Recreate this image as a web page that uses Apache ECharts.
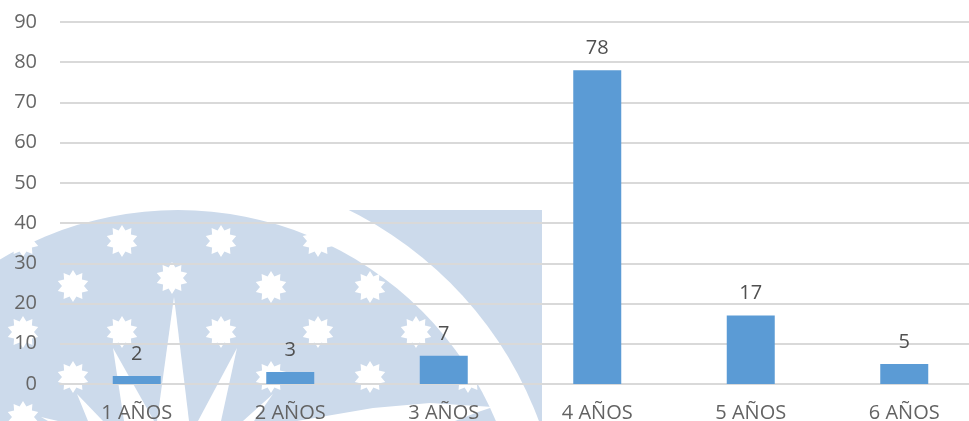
<!DOCTYPE html>
<html>
<head>
<meta charset="utf-8">
<style>html,body{margin:0;padding:0;background:#fff}#c{width:969px;height:421px}</style>
<script src="https://cdn.jsdelivr.net/npm/echarts@6/dist/echarts.min.js"></script>
</head>
<body>
<div id="c"></div>
<script>
const categories = ['1 AÑOS','2 AÑOS','3 AÑOS','4 AÑOS','5 AÑOS','6 AÑOS'];
const values = [2,3,7,78,17,5];
const yMin = 0, yMax = 90, yStep = 10;

const sealBlue = '#ccdaeb';
const sealCenter = [178,555];
const starCenters = [[23,241],[122,241],[221,241],[318,241],
  [73,286],[172,278],[271,287],[370,287],
  [23,332],[122,332],[221,332],[318,332],[416,332],
  [73,377],[271,377],[370,377],[468,377],[23,417]];
const rays = [
  [[174,297],[157,421],[189,421]],
  [[113,348],[124,421],[154,421]],
  [[237,348],[198,421],[221,421]],
  [[77,394],[88,421],[103,421]],
  [[273,394],[243,421],[254,421]],
  [[41,417],[48,421],[58,421]],
  [[493,407],[430,403],[373,408],[297,421],[455,421],[478,412]]
];
function starPoints(c, R, r, n){
  const pts = [];
  for(let i=0;i<n*2;i++){
    const a = Math.PI*i/n - Math.PI/2, d = i%2 ? r : R;
    pts.push([c[0]+d*Math.cos(a), c[1]+d*Math.sin(a)]);
  }
  return pts;
}
const Z = -10;
const watermark = [
  {type:'rect', z:Z, shape:{x:178,y:210,width:364,height:211}, style:{fill:sealBlue}},
  {type:'circle', z:Z, shape:{cx:sealCenter[0],cy:sealCenter[1],r:385}, style:{fill:'#fff'}},
  {type:'circle', z:Z, shape:{cx:sealCenter[0],cy:sealCenter[1],r:345}, style:{fill:sealBlue}},
  ...rays.map(p=>({type:'polygon', z:Z, shape:{points:p}, style:{fill:'#fff'}})),
  ...starCenters.map(c=>({type:'polygon', z:Z, shape:{points:starPoints(c,16,11,10)}, style:{fill:'#fff'}}))
];

const chart = echarts.init(document.getElementById('c'), null, {renderer:'canvas'});
const font = '"Open Sans", sans-serif';
chart.setOption({
  animation:false,
  backgroundColor:'#fff',
  graphic:{elements:watermark},
  grid:{left:60,top:22,width:921,height:362,containLabel:false,outerBoundsMode:'none'},
  xAxis:{type:'category',data:categories,
    axisLine:{show:true,lineStyle:{color:'#d9d9d9',width:2}},
    axisTick:{show:false},
    axisLabel:{color:'#636363',fontFamily:font,fontSize:20,margin:19,interval:0}},
  yAxis:{type:'value',min:yMin,max:yMax,interval:yStep,
    axisLine:{show:false},axisTick:{show:false},
    splitLine:{lineStyle:{color:'#d9d9d9',width:2}},
    axisLabel:{color:'#666',fontFamily:font,fontSize:20,margin:23}},
  series:[{type:'bar',data:values,barWidth:48,
    itemStyle:{color:'#5b9bd5'},
    label:{show:true,position:'top',distance:12,color:'#505050',fontFamily:font,fontSize:20}}]
});
</script>
</body>
</html>
